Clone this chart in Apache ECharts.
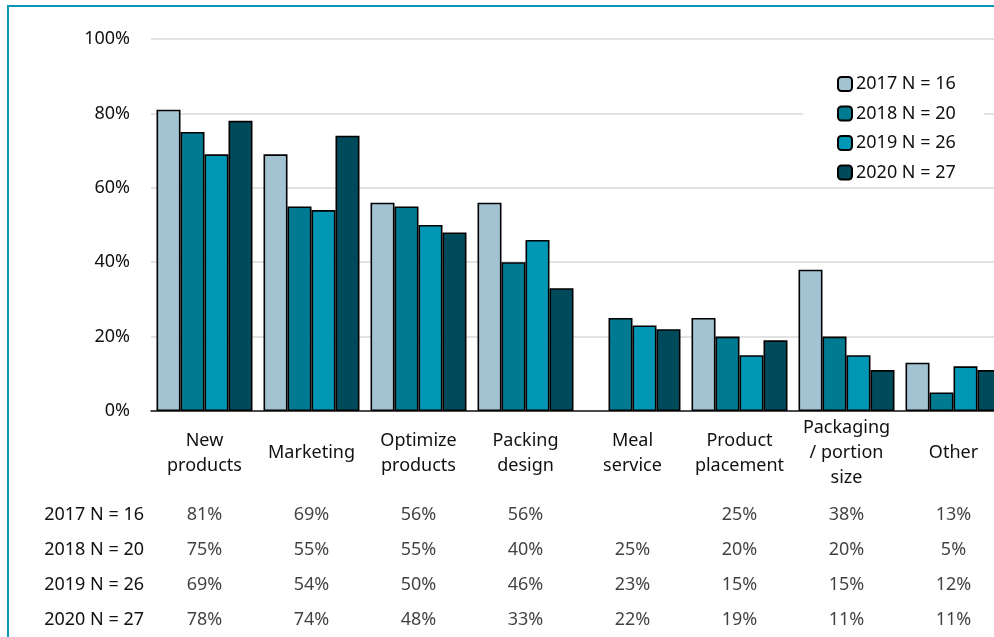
<!DOCTYPE html>
<html>
<head>
<meta charset="utf-8">
<title>Reasons for change, 2017–2020</title>
<script src="https://cdn.jsdelivr.net/npm/echarts@6/dist/echarts.min.js"></script>
<style>
  html, body { margin: 0; padding: 0; background: #fff; }
  #chart { width: 994px; height: 637px; }
</style>
</head>
<body>
<div id="chart"></div>
<script>
// Categories along the x axis (line breaks as they wrap under each group)
const categories = [
  'New\nproducts', 'Marketing', 'Optimize\nproducts', 'Packing\ndesign',
  'Meal\nservice', 'Product\nplacement', 'Packaging\n/ portion\nsize', 'Other'
];

// Survey years shown in the legend and as table rows
const seriesNames = ['2017 N = 16', '2018 N = 20', '2019 N = 26', '2020 N = 27'];

// Share of respondents (%) per category; null = not asked that year
const values2017 = [81, 69, 56, 56, null, 25, 38, 13];
const values2018 = [75, 55, 55, 40, 25, 20, 20, 5];
const values2019 = [69, 54, 50, 46, 23, 15, 15, 12];
const values2020 = [78, 74, 48, 33, 22, 19, 11, 11];

// Y axis ticks
const yTicks = [0, 20, 40, 60, 80, 100];

const seriesValues = [values2017, values2018, values2019, values2020];
const colors = ['#A3C3D3', '#007A91', '#0096B5', '#004B5B'];

const FONT = '"Noto Sans"';
const TEXT = '#111111';

const chart = echarts.init(document.getElementById('chart'), null, { renderer: 'canvas' });

const barSeries = seriesNames.map((name, i) => ({
  name,
  type: 'bar',
  xAxisIndex: 0,
  yAxisIndex: 0,
  data: seriesValues[i],
  barGap: '0%',
  barCategoryGap: '10.3%',
  itemStyle: { color: colors[i], borderColor: '#000', borderWidth: 1.6 },
  emphasis: { disabled: true }
}));

// Table cells below the plot: one point per (category, year) carrying its value as label
const tableCells = [];
seriesValues.forEach((vals, row) => {
  vals.forEach((v, col) => {
    if (v !== null) tableCells.push([col, row, v]);
  });
});

const tableSeries = {
  name: 'table',
  type: 'scatter',
  xAxisIndex: 1,
  yAxisIndex: 1,
  data: tableCells,
  symbolSize: 0,
  silent: true,
  label: {
    show: true,
    position: 'inside',
    formatter: p => p.value[2] + '%',
    fontFamily: FONT,
    fontSize: 18,
    color: TEXT
  }
};

chart.setOption({
  animation: false,
  backgroundColor: '#fff',
  textStyle: { fontFamily: FONT },
  graphic: [{
    type: 'rect',
    silent: true,
    z: -10,
    shape: { x: 8, y: 6, width: 1200, height: 1000 },
    style: { fill: 'none', stroke: '#0A97B5', lineWidth: 2 }
  }],
  legend: {
    data: seriesNames,
    orient: 'vertical',
    left: 803,
    top: 59,
    padding: [16, 28, 5, 34],
    backgroundColor: '#fff',
    itemWidth: 14,
    itemHeight: 14,
    itemGap: 11.5,
    selectedMode: false,
    textStyle: { fontFamily: FONT, fontSize: 18, color: TEXT, padding: [0, 0, 0, -1] },
    z: 10
  },
  grid: [
    { left: 151, top: 39, width: 856, height: 372, outerBoundsMode: 'none', containLabel: false },
    { left: 151, top: 497, width: 856, height: 140, outerBoundsMode: 'none', containLabel: false }
  ],
  xAxis: [
    {
      type: 'category',
      gridIndex: 0,
      data: categories,
      axisLine: { lineStyle: { color: '#1a1a1a', width: 1.6 } },
      axisTick: { show: false },
      axisLabel: {
        interval: 0,
        margin: 42,
        verticalAlign: 'middle',
        lineHeight: 25,
        fontFamily: FONT,
        fontSize: 18,
        color: TEXT
      }
    },
    {
      type: 'category',
      gridIndex: 1,
      data: categories,
      show: false
    }
  ],
  yAxis: [
    {
      type: 'value',
      gridIndex: 0,
      min: yTicks[0],
      max: yTicks[yTicks.length - 1],
      interval: yTicks[1] - yTicks[0],
      axisLine: { show: false },
      axisTick: { show: false },
      splitLine: { lineStyle: { color: '#D9D9D9', width: 1.5 } },
      axisLabel: {
        margin: 21,
        formatter: '{value}%',
        fontFamily: FONT,
        fontSize: 18,
        color: TEXT
      }
    },
    {
      type: 'category',
      gridIndex: 1,
      data: seriesNames,
      inverse: true,
      axisLine: { show: false },
      axisTick: { show: false },
      splitLine: { show: false },
      axisLabel: {
        margin: 7,
        fontFamily: FONT,
        fontSize: 18,
        color: TEXT
      }
    }
  ],
  series: [...barSeries, tableSeries]
});
</script>
</body>
</html>
